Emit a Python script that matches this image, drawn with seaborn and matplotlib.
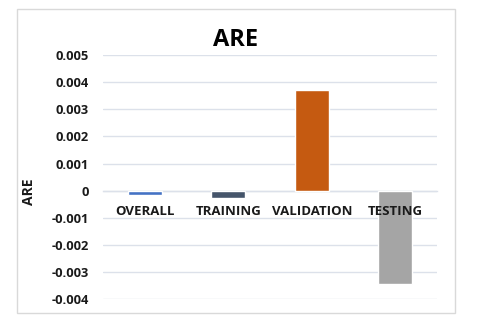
import matplotlib
matplotlib.use("Agg")
import matplotlib.pyplot as plt
import seaborn as sns
import pandas as pd
from matplotlib.patches import Rectangle
from matplotlib.transforms import offset_copy

categories = ["OVERALL", "TRAINING", "VALIDATION", "TESTING"]
values = [-0.00014, -0.00026, 0.0037, -0.00342]
colors = ["#4472C4", "#44546A", "#C55A11", "#A5A5A5"]
yticks = [-0.004, -0.003, -0.002, -0.001, 0, 0.001, 0.002, 0.003, 0.004, 0.005]
ytick_labels = ["-0.004", "-0.003", "-0.002", "-0.001", "0", "0.001", "0.002", "0.003", "0.004", "0.005"]

sns.set_theme(style="white")
plt.rcParams['font.family'] = ['Open Sans', 'DejaVu Sans']

df = pd.DataFrame({"cat": categories, "val": values})

fig = plt.figure(figsize=(4.83, 3.24), dpi=100)
fig.patch.set_facecolor("white")
# chart border
fig.add_artist(Rectangle((17/483, 1-313/324), (455-17)/483, (313-9)/324,
                         transform=fig.transFigure, fill=False, edgecolor="#D9D9D9", linewidth=1.0))

ax = fig.add_axes([103/483, 1-299.3/324, (437-103)/483, (299.3-55)/324])
sns.barplot(data=df, x="cat", y="val", hue="cat", palette=colors, legend=False,
            width=0.41, ax=ax, saturation=1, zorder=3)
ax.set_ylim(-0.004, 0.005)
ax.set_xlim(-0.5, 3.5)
ax.set_yticks(yticks)
ax.set_yticklabels(ytick_labels, fontsize=9.3, fontweight="bold", color="#1a1a1a")
ax.yaxis.grid(True, color="#DCE1EA", linewidth=1.0, zorder=0)
ax.set_axisbelow(True)
for s in ["left", "right", "top"]:
    ax.spines[s].set_visible(False)
ax.spines["bottom"].set_position(("data", 0))
ax.spines["bottom"].set_color("#DCE1EA")
ax.spines["bottom"].set_linewidth(1.0)
ax.spines["bottom"].set_zorder(1)
ax.tick_params(axis="x", length=0, labelbottom=False)
ax.tick_params(axis="y", length=0, pad=10)
# category labels drawn on top of the bars (as in the reference)
trans = offset_copy(ax.transData, fig=fig, x=0, y=-10.5, units="points")
for i, c in enumerate(categories):
    ax.text(i, 0, c, transform=trans, ha="center", va="top", fontsize=9.5,
            fontweight="bold", color="#1a1a1a", zorder=6)
ax.set_xlabel("")
ax.set_ylabel("ARE", fontsize=10, fontweight="bold", color="#1a1a1a")
ax.yaxis.set_label_coords(-0.2, 0.44)
fig.text(236/483, 1-40/324, "ARE", ha="center", va="center", fontsize=17,
         fontweight="bold", color="black")

fig.savefig("out.png", dpi=100, facecolor="white")
